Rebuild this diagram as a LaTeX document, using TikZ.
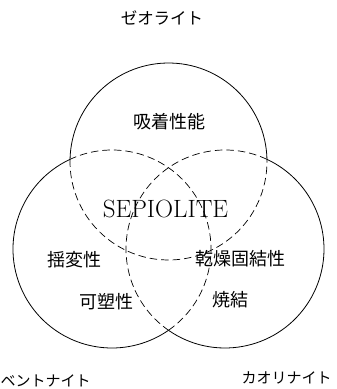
\documentclass[tikz,border=0pt]{standalone}
\usepackage{fontspec}
\newfontfamily\cjk{Noto Sans CJK JP}
\begin{document}
\begin{tikzpicture}[x=1pt,y=1pt,
  solidarc/.style={line width=0.8pt},
  dasharc/.style={line width=0.7pt,dash pattern=on 7.5pt off 4pt},
  kanji/.style={font=\cjk\fontsize{18}{21}\selectfont,inner sep=0pt},
  kana/.style={font=\cjk\fontsize{15}{18}\selectfont,inner sep=0pt}]
\useasboundingbox (0,0) rectangle (337,389);
\coordinate (T) at (168.5,227.5);
\coordinate (L) at (112,140);
\coordinate (R) at (225,140);
% top circle (zeolite)
\draw[solidarc] (T) ++(1.26:98.5) arc[start angle=1.26,end angle=178.74,radius=98.5];
\draw[dasharc] (T) ++(178.74:98.5) arc[start angle=178.74,end angle=361.26,radius=98.5];
% left circle (bentonite)
\draw[solidarc] (L) ++(115.08:99) arc[start angle=115.08,end angle=304.8,radius=99];
\draw[dasharc] (L) ++(-55.2:99) arc[start angle=-55.2,end angle=115.08,radius=99];
% right circle (kaolinite)
\draw[solidarc] (R) ++(-124.8:99) arc[start angle=-124.8,end angle=64.92,radius=99];
\draw[dasharc] (R) ++(64.92:99) arc[start angle=64.92,end angle=235.2,radius=99];
% labels
\node[kana,font=\cjk\fontsize{16.5}{19}\selectfont] (zeo) at (162,371) {ゼオライト};
\node[kana,anchor=west] (ben) at (0.5,8) {ベントナイト};
\node[kana] (kao) at (286.5,11) {カオリナイト};
\node[kanji] (ads) at (169,267) {吸着性能};
\node[inner sep=0pt,font=\fontsize{25}{30}\selectfont] (sep) at (165.5,180) {SEPIOLITE};
\node[kanji] (thx) at (75,129) {揺変性};
\node[kanji] (pla) at (106,87) {可塑性};
\node[kanji] (dry) at (240,130) {乾燥固結性};
\node[kanji] (sin) at (230,89) {焼結};
\end{tikzpicture}
\end{document}
